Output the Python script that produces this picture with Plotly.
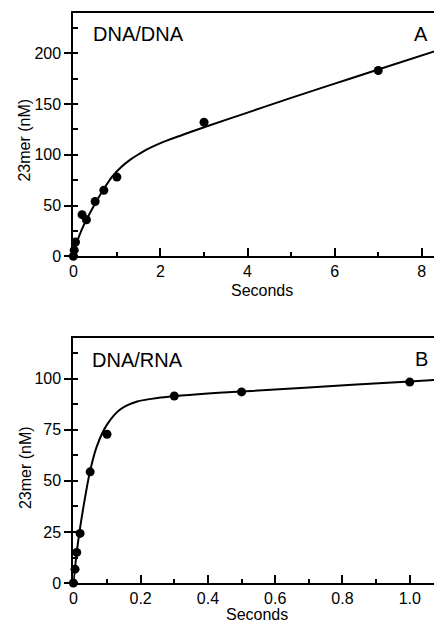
import plotly.graph_objects as go

# ---- Panel A: DNA/DNA ----
a_time = [0, 0.02, 0.05, 0.2, 0.3, 0.5, 0.7, 1.0, 3.0, 7.0]
a_conc = [0, 6, 14, 41, 36, 54, 65, 78, 132, 183]
a_fit_time = [0, 0.05, 0.1, 0.2, 0.3, 0.45, 0.68, 0.9, 1.1, 1.3, 1.5, 1.7, 2.0, 2.5, 3.0, 4.0, 5.0, 6.0, 7.0, 8.3]
a_fit_conc = [0, 9, 16, 27, 36, 48, 65, 79, 88, 95, 100.5, 105.5, 111.5, 119.5, 127, 141.5, 156, 170, 184, 202]

# ---- Panel B: DNA/RNA ----
b_time = [0, 0.005, 0.01, 0.02, 0.05, 0.1, 0.3, 0.5, 1.0]
b_conc = [0, 6.8, 15, 24.3, 54.4, 72.8, 91.5, 93.5, 98.3]
b_fit_time = [0, 0.005, 0.01, 0.02, 0.035, 0.05, 0.07, 0.1, 0.14, 0.19, 0.25, 0.3, 0.4, 0.5, 0.7, 1.0, 1.075]
b_fit_conc = [0, 7.5, 15, 27, 42, 55, 67, 77.5, 85, 88.8, 90.5, 91.4, 92.7, 93.7, 95.7, 98.6, 99.3]

a_xticks = [0, 2, 4, 6, 8]
a_yticks = [0, 50, 100, 150, 200]
b_xticks = [0, 0.2, 0.4, 0.6, 0.8, 1.0]
b_xticklabels = ["0", "0.2", "0.4", "0.6", "0.8", "1.0"]
b_yticks = [0, 25, 50, 75, 100]

FONT = "Liberation Sans, Arial, sans-serif"
W, H = 434, 624
HE = 616  # effective drawn height used to place things in paper fractions

fig = go.Figure()

line_style = dict(color="black", width=2)
marker_style = dict(color="black", size=9, symbol="circle")

fig.add_trace(go.Scatter(x=a_fit_time, y=a_fit_conc, mode="lines", line=line_style,
                         line_shape="spline", xaxis="x", yaxis="y", cliponaxis=True, showlegend=False))
fig.add_trace(go.Scatter(x=a_time, y=a_conc, mode="markers", marker=marker_style,
                         xaxis="x", yaxis="y", cliponaxis=False, showlegend=False))
fig.add_trace(go.Scatter(x=b_fit_time, y=b_fit_conc, mode="lines", line=line_style,
                         line_shape="spline", xaxis="x2", yaxis="y2", cliponaxis=True, showlegend=False))
fig.add_trace(go.Scatter(x=b_time, y=b_conc, mode="markers", marker=marker_style,
                         xaxis="x2", yaxis="y2", cliponaxis=False, showlegend=False))

left = 70 / W
a_top, a_bot = 1 - 13 / HE, 1 - 256.7 / HE
b_top, b_bot = 1 - 338.3 / HE, 1 - 584 / HE

common_x = dict(showline=True, linecolor="black", linewidth=2, mirror=True,
                ticks="inside", ticklen=8, tickwidth=2, tickcolor="black",
                showgrid=False, zeroline=False,
                tickfont=dict(family=FONT, size=16, color="black"))
common_y = dict(showline=True, linecolor="black", linewidth=2,
                ticks="outside", ticklen=7, tickwidth=2, tickcolor="black",
                showgrid=False, zeroline=False,
                tickfont=dict(family=FONT, size=16, color="black"))

fig.update_layout(
    width=W, height=H, autosize=False,
    margin=dict(l=0, r=0, t=0, b=0, pad=0),
    paper_bgcolor="white", plot_bgcolor="white",
    font=dict(family=FONT, color="black"),
    xaxis=dict(domain=[left, 1], range=[0, 8.28], anchor="y",
               tickvals=a_xticks,
               minor=dict(ticks="inside", ticklen=4, tickwidth=1.5, tickcolor="black", dtick=1, tick0=0),
               **common_x),
    yaxis=dict(domain=[a_bot, a_top], range=[0, 239.6], anchor="x",
               tickvals=a_yticks,
               minor=dict(ticks="inside", ticklen=5, tickwidth=1.5, tickcolor="black", dtick=25, tick0=0),
               **common_y),
    xaxis2=dict(domain=[left, 1], range=[0, 1.072], anchor="y2",
                tickvals=b_xticks, ticktext=b_xticklabels,
                minor=dict(ticks="inside", ticklen=4, tickwidth=1.5, tickcolor="black", dtick=0.1, tick0=0),
                **common_x),
    yaxis2=dict(domain=[b_bot, b_top], range=[0, 120], anchor="x2",
                tickvals=b_yticks,
                minor=dict(ticks="inside", ticklen=5, tickwidth=1.5, tickcolor="black", dtick=12.5, tick0=0),
                **common_y),
)

ann_font = dict(family=FONT, size=20, color="black")
lab_font = dict(family=FONT, size=16, color="black")
annotations = [
    dict(text="DNA/DNA", xref="x domain", yref="y domain", x=0.049, y=0.914,
         xanchor="left", yanchor="middle", showarrow=False, font=ann_font),
    dict(text="A", xref="x domain", yref="y domain", x=0.989, y=0.912,
         xanchor="right", yanchor="middle", showarrow=False, font=ann_font),
    dict(text="DNA/RNA", xref="x2 domain", yref="y2 domain", x=0.047, y=0.91,
         xanchor="left", yanchor="middle", showarrow=False, font=ann_font),
    dict(text="B", xref="x2 domain", yref="y2 domain", x=0.989, y=0.912,
         xanchor="right", yanchor="middle", showarrow=False, font=ann_font),
    dict(text="Seconds", xref="paper", yref="paper", x=260 / W, y=1 - 291 / HE,
         xanchor="center", yanchor="middle", showarrow=False, font=lab_font),
    dict(text="Seconds", xref="paper", yref="paper", x=255 / W, y=1 - 615.5 / HE,
         xanchor="center", yanchor="middle", showarrow=False, font=lab_font),
    dict(text="23mer (nM)", xref="paper", yref="paper", x=21 / W, y=1 - 140 / HE,
         xanchor="center", yanchor="middle", textangle=-90, showarrow=False, font=lab_font),
    dict(text="23mer (nM)", xref="paper", yref="paper", x=21 / W, y=1 - 468 / HE,
         xanchor="center", yanchor="middle", textangle=-90, showarrow=False, font=lab_font),
]
fig.update_layout(annotations=annotations)

fig.write_html("out.html",
               config={"displayModeBar": False, "responsive": False},
               post_script="document.body.style.margin='0';document.body.style.overflow='hidden';")
